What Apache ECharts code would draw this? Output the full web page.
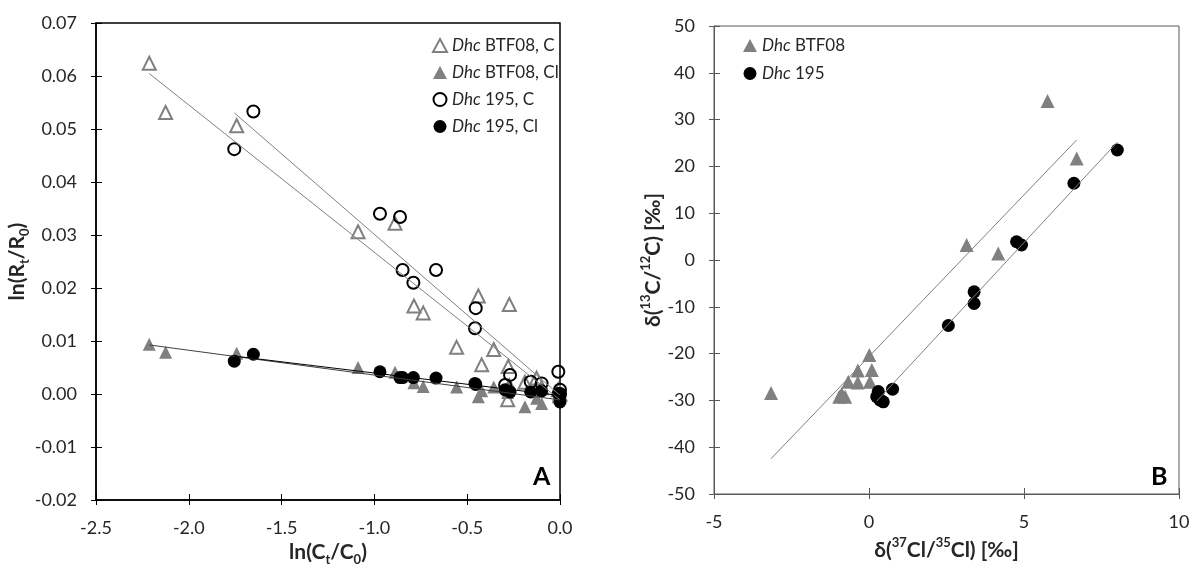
<!DOCTYPE html>
<html><head><meta charset="utf-8">
<script src="https://cdn.jsdelivr.net/npm/echarts@6/dist/echarts.min.js"></script>
<style>html,body{margin:0;padding:0;background:#fff}#c{width:1193px;height:565px}</style>
</head><body><div id="c"></div>
<script>
// ---------- Panel A: ln(Rt/R0) vs ln(Ct/C0) ----------
const xBTF  = [-2.213, -2.125, -1.742, -1.088, -0.889, -0.787, -0.737, -0.557, -0.440, -0.422, -0.357, -0.273, -0.279, -0.282, -0.189, -0.126, -0.099, -0.009, 0.000];
const cBTF  = [0.0624, 0.0531, 0.0506, 0.0306, 0.0322, 0.0166, 0.0153, 0.0088, 0.0185, 0.0055, 0.0084, 0.0169, 0.0052, -0.0011, 0.0022, 0.0030, 0.0012, 0.0008, 0.0000];
const clBTF = [0.0094, 0.0079, 0.0077, 0.0050, 0.0041, 0.0021, 0.0014, 0.0013, -0.0005, 0.0006, 0.0013, 0.0020, 0.0008, 0.0003, -0.0024, -0.0008, -0.0018, -0.0005, 0.0000];
const x195  = [-1.755, -1.652, -0.970, -0.862, -0.848, -0.790, -0.668, -0.458, -0.454, -0.296, -0.269, -0.158, -0.099, -0.009, 0.000, 0.000];
const c195  = [0.0462, 0.0533, 0.0340, 0.0334, 0.0234, 0.0210, 0.0234, 0.0124, 0.0162, 0.0017, 0.0036, 0.0023, 0.0020, 0.0042, 0.0008, 0.0000];
const cl195 = [0.0062, 0.0075, 0.0042, 0.0031, 0.0031, 0.0031, 0.0030, 0.0020, 0.0018, 0.0008, 0.0004, 0.0004, 0.0006, 0.0001, -0.0015, 0.0000];
const axA_x = {min: -2.5, max: 0, interval: 0.5};
const axA_y = {min: -0.02, max: 0.07, interval: 0.01};

// ---------- Panel B: delta13C vs delta37Cl ----------
const dClBTF = [-3.16, 0.01, 0.09, -0.36, 0.03, -0.36, -0.67, -0.88, -0.96, -0.77, 3.15, 4.17, 5.76, 6.70];
const dCBTF  = [-28.4, -20.3, -23.5, -23.6, -26.0, -26.2, -26.0, -28.6, -29.2, -29.2, 3.2, 1.4, 34.0, 21.7];
const dCl195 = [0.30, 0.25, 0.35, 0.46, 0.76, 2.56, 3.39, 3.39, 4.76, 4.92, 6.61, 8.01];
const dC195  = [-28.1, -29.2, -29.9, -30.3, -27.6, -14.0, -6.8, -9.3, 3.9, 3.2, 16.4, 23.5];
const axB_x = {min: -5, max: 10, interval: 5};
const axB_y = {min: -50, max: 50, interval: 10};

const namesA = ['Dhc BTF08, C', 'Dhc BTF08, Cl', 'Dhc 195, C', 'Dhc 195, Cl'];
const namesB = ['Dhc BTF08', 'Dhc 195'];

function pairs(xs, ys) { return xs.map((x, i) => [x, ys[i]]); }
// least-squares trend line over the data range (as an Excel linear trendline)
function fit(xs, ys) {
  const n = xs.length;
  const mx = xs.reduce((a, b) => a + b, 0) / n;
  const my = ys.reduce((a, b) => a + b, 0) / n;
  let sxy = 0, sxx = 0;
  for (let i = 0; i < n; i++) { sxy += (xs[i] - mx) * (ys[i] - my); sxx += (xs[i] - mx) ** 2; }
  const k = sxy / sxx, b = my - k * mx;
  const x0 = Math.min(...xs), x1 = Math.max(...xs);
  return [[x0, b + k * x0], [x1, b + k * x1]];
}

const FONT = 'Lato, "Open Sans", sans-serif';
const TXT = '#262626';
const gridA = {left: 96, top: 23, width: 464, height: 477, outerBoundsMode: 'none', containLabel: false, show: true, borderColor: '#000', borderWidth: 1.5, backgroundColor: 'transparent'};
const gridB = {left: 714, top: 26, width: 465, height: 468, outerBoundsMode: 'none', containLabel: false, show: true, borderColor: '#595959', borderWidth: 1, backgroundColor: 'transparent'};

function mainX(gi, r, col, lw, fmt, nameRich, name) {
  return {gridIndex: gi, type: 'value', position: 'bottom', min: r.min, max: r.max, interval: r.interval,
    axisLine: {show: true, onZero: false, lineStyle: {color: col, width: lw}},
    axisTick: {show: true, inside: false, length: 5, lineStyle: {color: col, width: 1}},
    axisLabel: {show: true, margin: 19, color: TXT, fontSize: 18, fontFamily: FONT, formatter: fmt},
    splitLine: {show: false},
    name: name, nameLocation: 'middle', nameGap: 35,
    nameTextStyle: {rich: nameRich}};
}
function mainY(gi, r, col, lw, fmt, nameRich, name, gap) {
  return {gridIndex: gi, type: 'value', position: 'left', min: r.min, max: r.max, interval: r.interval,
    axisLine: {show: true, onZero: false, lineStyle: {color: col, width: lw}},
    axisTick: {show: true, inside: false, length: 5, lineStyle: {color: col, width: 1}},
    axisLabel: {show: true, margin: 19, color: TXT, fontSize: 18, fontFamily: FONT, formatter: fmt},
    splitLine: {show: false},
    name: name, nameLocation: 'middle', nameGap: gap, nameRotate: 90,
    nameTextStyle: {rich: nameRich}};
}
function tickOverlay(gi, r, col, pos) {
  return {gridIndex: gi, type: 'value', position: pos, min: r.min, max: r.max, interval: r.interval,
    axisLine: {show: false, onZero: false}, axisLabel: {show: false}, splitLine: {show: false},
    axisTick: {show: true, inside: true, length: 6, lineStyle: {color: col, width: 1}}};
}

const richBase = {
  b:   {fontFamily: FONT, fontWeight: 'bold', fontSize: 21, color: TXT, lineHeight: 28, verticalAlign: 'middle'},
  sub: {fontFamily: FONT, fontWeight: 'bold', fontSize: 13, color: TXT, lineHeight: 28, verticalAlign: 'bottom'},
  sup: {fontFamily: FONT, fontWeight: 'bold', fontSize: 13, color: TXT, lineHeight: 28, verticalAlign: 'top'}
};

const legendRich = {i: {fontStyle: 'italic', fontFamily: FONT, fontSize: 17, color: TXT}};
const legendFmt = n => '{i|Dhc}' + n.slice(3);

const open = (c, w) => ({color: 'rgba(255,255,255,0)', borderColor: c, borderWidth: w, opacity: 1});

const option = {
  animation: false,
  backgroundColor: '#fff',
  grid: [gridA, gridB],
  xAxis: [
    mainX(0, axA_x, '#000', 1.5, v => v.toFixed(1), richBase, '{b|ln(C}{sub|t}{b|/C}{sub|0}{b|)}'),
    tickOverlay(0, axA_x, '#000', 'bottom'),
    mainX(1, axB_x, '#595959', 1, v => String(v), richBase, '{b|δ(}{sup|37}{b|Cl/}{sup|35}{b|Cl) [‰]}'),
    tickOverlay(1, axB_x, '#595959', 'bottom')
  ],
  yAxis: [
    mainY(0, axA_y, '#000', 1.5, v => v.toFixed(2), richBase, '{b|ln(R}{sub|t}{b|/R}{sub|0}{b|)}', 47),
    tickOverlay(0, axA_y, '#000', 'left'),
    mainY(1, axB_y, '#595959', 1, v => String(v), richBase, '{b|δ(}{sup|13}{b|C/}{sup|12}{b|C) [‰]}', 34),
    tickOverlay(1, axB_y, '#595959', 'left')
  ],
  legend: [
    {data: namesA, orient: 'vertical', left: 427, top: 32, itemWidth: 14, itemHeight: 13, itemGap: 10,
     formatter: legendFmt, textStyle: {fontFamily: FONT, fontSize: 17, color: TXT, rich: legendRich}},
    {data: namesB, orient: 'vertical', left: 738, top: 32, itemWidth: 14, itemHeight: 13, itemGap: 11,
     formatter: legendFmt, textStyle: {fontFamily: FONT, fontSize: 17, color: TXT, rich: legendRich}}
  ],
  graphic: [
    {type: 'text', left: 533, top: 464, style: {text: 'A', font: 'bold 25px ' + FONT, fill: '#000'}},
    {type: 'text', left: 1151, top: 464, style: {text: 'B', font: 'bold 25px ' + FONT, fill: '#000'}}
  ],
  series: [
    // Panel A trend lines
    {type: 'line', xAxisIndex: 0, yAxisIndex: 0, data: fit(xBTF, cBTF), symbol: 'none', silent: true, z: 3, lineStyle: {color: '#7f7f7f', width: 1}},
    {type: 'line', xAxisIndex: 0, yAxisIndex: 0, data: fit(x195, c195), symbol: 'none', silent: true, z: 3, lineStyle: {color: '#7f7f7f', width: 1}},
    {type: 'line', xAxisIndex: 0, yAxisIndex: 0, data: fit(xBTF, clBTF), symbol: 'none', silent: true, z: 3, lineStyle: {color: '#404040', width: 1}},
    {type: 'line', xAxisIndex: 0, yAxisIndex: 0, data: fit(x195, cl195), symbol: 'none', silent: true, z: 3, lineStyle: {color: '#000', width: 1}},
    // Panel A points
    {name: namesA[0], type: 'scatter', xAxisIndex: 0, yAxisIndex: 0, data: pairs(xBTF, cBTF), symbol: 'triangle', symbolSize: 13, itemStyle: open('#808080', 2)},
    {name: namesA[1], type: 'scatter', xAxisIndex: 0, yAxisIndex: 0, data: pairs(xBTF, clBTF), symbol: 'triangle', symbolSize: 13, itemStyle: {color: '#808080', opacity: 1}},
    {name: namesA[2], type: 'scatter', xAxisIndex: 0, yAxisIndex: 0, data: pairs(x195, c195), symbol: 'circle', symbolSize: 12, itemStyle: open('#000', 2)},
    {name: namesA[3], type: 'scatter', xAxisIndex: 0, yAxisIndex: 0, data: pairs(x195, cl195), symbol: 'circle', symbolSize: 13, itemStyle: {color: '#000', opacity: 1}},
    // Panel B trend lines
    {type: 'line', xAxisIndex: 2, yAxisIndex: 2, data: fit(dClBTF, dCBTF), symbol: 'none', silent: true, z: 3, lineStyle: {color: '#7f7f7f', width: 1}},
    {type: 'line', xAxisIndex: 2, yAxisIndex: 2, data: fit(dCl195, dC195), symbol: 'none', silent: true, z: 3, lineStyle: {color: '#7f7f7f', width: 1}},
    // Panel B points
    {name: namesB[0], type: 'scatter', xAxisIndex: 2, yAxisIndex: 2, data: pairs(dClBTF, dCBTF), symbol: 'triangle', symbolSize: 14, itemStyle: {color: '#808080', opacity: 1}},
    {name: namesB[1], type: 'scatter', xAxisIndex: 2, yAxisIndex: 2, data: pairs(dCl195, dC195), symbol: 'circle', symbolSize: 13, itemStyle: {color: '#000', opacity: 1}}
  ]
};
echarts.init(document.getElementById('c')).setOption(option);
</script>
</body></html>
